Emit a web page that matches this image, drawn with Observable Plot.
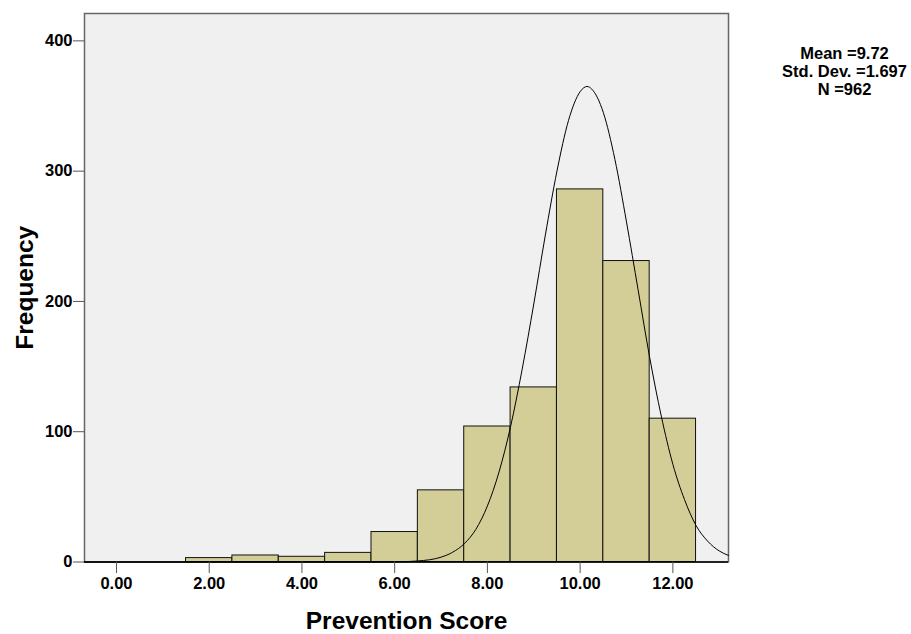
<!DOCTYPE html>
<html>
<head>
<meta charset="utf-8">
<script src="https://cdn.jsdelivr.net/npm/d3@7"></script>
<script src="https://cdn.jsdelivr.net/npm/@observablehq/plot@0.6"></script>
<style>
  html, body { margin: 0; padding: 0; background: #fff; }
  #chart svg { font-family: "Liberation Sans", Arial, sans-serif; display: block; }
</style>
</head>
<body>
<div id="chart"></div>
<script>
// Histogram bins (left edges) and frequencies
const binStarts = [1.5, 2.5, 3.5, 4.5, 5.5, 6.5, 7.5, 8.5, 9.5, 10.5, 11.5];
const counts    = [3,   5,   4,   7,   23,  55,  104, 134, 286, 231,  110];
const binWidth = 1;

// Normal curve points
const curveX = [-0.69, 5.0, 6.0, 6.5, 7.0, 7.25, 7.5, 7.75, 8.0, 8.25, 8.5, 8.75, 9.0, 9.25, 9.5, 9.75, 10.0, 10.15, 10.25, 10.5, 10.75, 11.0, 11.25, 11.5, 11.75, 12.0, 12.25, 12.5, 12.75, 13.0, 13.2];
const curveY = [0, 0, 0.1, 0.8, 3.7, 7.5, 14, 25, 43, 69, 104, 148, 198, 251, 300, 339, 361, 365, 363, 345, 309, 261, 209, 157, 112, 75, 48, 28, 16, 8.5, 5];

const xTicks = [0, 2, 4, 6, 8, 10, 12];
const yTicks = [0, 100, 200, 300, 400];

const statsLines = ["Mean =9.72", "Std. Dev. =1.697", "N =962"];

const bins = binStarts.map((s, i) => ({x1: s, x2: s + binWidth, count: counts[i]}));
const curve = curveX.map((x, i) => ({x, y: curveY[i]}));

const chart = Plot.plot({
  width: 911,
  height: 634,
  marginLeft: 84,
  marginRight: 183,
  marginTop: 13,
  marginBottom: 72.5,
  x: {domain: [-0.69, 13.2]},
  y: {domain: [0, 421]},
  marks: [
    Plot.frame({fill: "#f0f0f0", stroke: "#666", strokeWidth: 1.5}),
    Plot.rectY(bins, {x1: "x1", x2: "x2", y: "count", fill: "#d3ce98", stroke: "#111", strokeWidth: 1, insetLeft: 0, insetRight: 0}),
    Plot.line(curve, {x: "x", y: "y", curve: "monotone-x", stroke: "#000", strokeWidth: 1}),
    Plot.ruleY([0], {stroke: "#000", strokeWidth: 1.5}),
    Plot.axisX({ticks: xTicks, tickFormat: d => d.toFixed(2), tickSize: 11.5, tickPadding: 4, fontSize: 16.5, fontWeight: "bold", stroke: "#555", label: null, color: "#000"}),
    Plot.axisY({ticks: yTicks, tickSize: 11, tickPadding: 1, fontSize: 16.5, fontWeight: "bold", stroke: "#555", label: null, color: "#000"}),
    Plot.text(["Prevention Score"], {frameAnchor: "bottom", dy: 59.5, lineAnchor: "middle", textAnchor: "middle", fontSize: 24.5, fontWeight: "bold", fill: "#000"}),
    Plot.text(["Frequency"], {frameAnchor: "left", dx: -59, rotate: -90, lineAnchor: "middle", textAnchor: "middle", fontSize: 24.5, fontWeight: "bold", fill: "#000"}),
    Plot.text([statsLines.join("\n")], {frameAnchor: "top-right", dx: 116, dy: 33, lineAnchor: "top", textAnchor: "middle", lineHeight: 1.09, fontSize: 16.5, fontWeight: "bold", fill: "#000"})
  ]
});

document.getElementById("chart").appendChild(chart);
</script>
</body>
</html>
